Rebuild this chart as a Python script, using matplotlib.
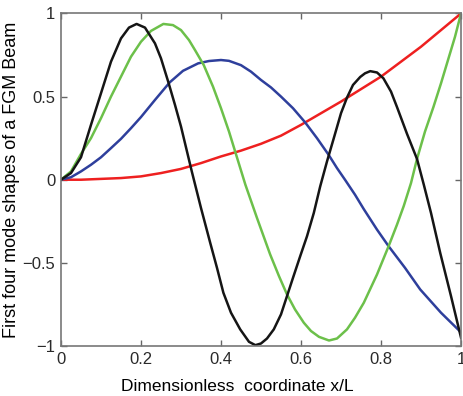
import matplotlib
matplotlib.use("Agg")
import matplotlib.pyplot as plt

plt.rcParams["font.family"] = ["Liberation Sans", "DejaVu Sans"]

# values
x_red = [0, 0.05, 0.1, 0.15, 0.2, 0.25, 0.3, 0.35, 0.4, 0.45, 0.5, 0.55, 0.6, 0.65, 0.7,
         0.75, 0.8, 0.85, 0.9, 0.95, 1.0]
y_red = [0, 0.0, 0.005, 0.01, 0.02, 0.04, 0.065, 0.10, 0.14, 0.175, 0.216, 0.265, 0.33,
         0.40, 0.47, 0.545, 0.62, 0.71, 0.80, 0.90, 1.0]

x_blue = [0, 0.025, 0.05, 0.075, 0.1, 0.125, 0.15, 0.175, 0.2, 0.235, 0.272, 0.305, 0.343,
          0.37, 0.4, 0.42, 0.45, 0.475, 0.5, 0.525, 0.55, 0.58, 0.61, 0.64, 0.669, 0.69,
          0.71, 0.735, 0.757, 0.79, 0.819, 0.86, 0.898, 0.95, 1.0]
y_blue = [0, 0.015, 0.05, 0.09, 0.135, 0.19, 0.246, 0.31, 0.377, 0.48, 0.586, 0.655, 0.70,
          0.714, 0.72, 0.715, 0.689, 0.65, 0.60, 0.555, 0.50, 0.43, 0.346, 0.25, 0.15, 0.07,
          0.0, -0.09, -0.177, -0.30, -0.40, -0.53, -0.66, -0.80, -0.918]

x_green = [0, 0.025, 0.05, 0.075, 0.1, 0.125, 0.15, 0.175, 0.2, 0.225, 0.256, 0.28, 0.3,
           0.32, 0.335, 0.357, 0.38, 0.4, 0.42, 0.436, 0.461, 0.49, 0.523, 0.545, 0.565,
           0.585, 0.607, 0.625, 0.645, 0.67, 0.69, 0.715, 0.735, 0.757, 0.79, 0.819, 0.84,
           0.857, 0.875, 0.89, 0.91, 0.931, 0.95, 0.965, 0.985, 1.0]
y_green = [0, 0.05, 0.155, 0.25, 0.37, 0.50, 0.62, 0.74, 0.83, 0.895, 0.937, 0.93, 0.90,
           0.84, 0.78, 0.689, 0.56, 0.43, 0.29, 0.165, -0.03, -0.23, -0.45, -0.58, -0.69,
           -0.78, -0.86, -0.91, -0.945, -0.967, -0.955, -0.90, -0.83, -0.74, -0.57, -0.40,
           -0.27, -0.157, -0.02, 0.125, 0.29, 0.437, 0.58, 0.70, 0.86, 1.0]

x_black = [0, 0.025, 0.05, 0.075, 0.1, 0.125, 0.15, 0.17, 0.189, 0.21, 0.235, 0.25, 0.268,
           0.285, 0.30, 0.327, 0.35, 0.373, 0.39, 0.406, 0.425, 0.448, 0.47, 0.486, 0.50,
           0.515, 0.532, 0.55, 0.565, 0.58, 0.598, 0.615, 0.632, 0.648, 0.665, 0.682, 0.70,
           0.715, 0.73, 0.748, 0.76, 0.773, 0.79, 0.806, 0.825, 0.84, 0.865, 0.89, 0.907,
           0.925, 0.948, 0.975, 1.0]
y_black = [0, 0.04, 0.135, 0.33, 0.52, 0.71, 0.85, 0.915, 0.937, 0.915, 0.82, 0.73, 0.59,
           0.45, 0.32, 0.05, -0.17, -0.379, -0.53, -0.68, -0.80, -0.90, -0.975, -0.995,
           -0.985, -0.955, -0.90, -0.81, -0.70, -0.59, -0.46, -0.34, -0.20, -0.04, 0.11,
           0.25, 0.40, 0.494, 0.57, 0.618, 0.64, 0.653, 0.645, 0.61, 0.53, 0.437, 0.276,
           0.125, -0.03, -0.20, -0.44, -0.70, -0.95]

x_ticks = [0, 0.2, 0.4, 0.6, 0.8, 1]
x_tick_labels = ["0", "0.2", "0.4", "0.6", "0.8", "1"]
y_ticks = [-1, -0.5, 0, 0.5, 1]
y_tick_labels = ["\u22121", "\u22120.5", "0", "0.5", "1"]

fig = plt.figure(figsize=(4.63, 3.96), dpi=100)
ax = fig.add_axes([0.1317, 0.1263, 0.864, 0.8397])

lw = 1.8
ax.plot(x_red, y_red, color="#ee2020", lw=lw)
ax.plot(x_blue, y_blue, color="#2e3f9c", lw=lw)
ax.plot(x_green, y_green, color="#6cc04a", lw=lw)
ax.plot(x_black, y_black, color="#151515", lw=lw)

ax.set_xlim(0, 1)
ax.set_ylim(-1, 1)
ax.set_xticks(x_ticks)
ax.set_xticklabels(x_tick_labels)
ax.set_yticks(y_ticks)
ax.set_yticklabels(y_tick_labels)
ax.tick_params(direction="in", top=True, right=True, length=4, width=1, color="#666666",
               labelsize=12, labelcolor="#2a2a2a", pad=4)
for s in ax.spines.values():
    s.set_color("#777777")
    s.set_linewidth(1.2)

ax.set_xlabel("Dimensionless  coordinate x/L", fontsize=12.5)
ax.xaxis.set_label_coords(0.44, -0.10)
ax.set_ylabel("First four mode shapes of a FGM Beam", fontsize=13, labelpad=2)

fig.savefig("out.png", dpi=100)
